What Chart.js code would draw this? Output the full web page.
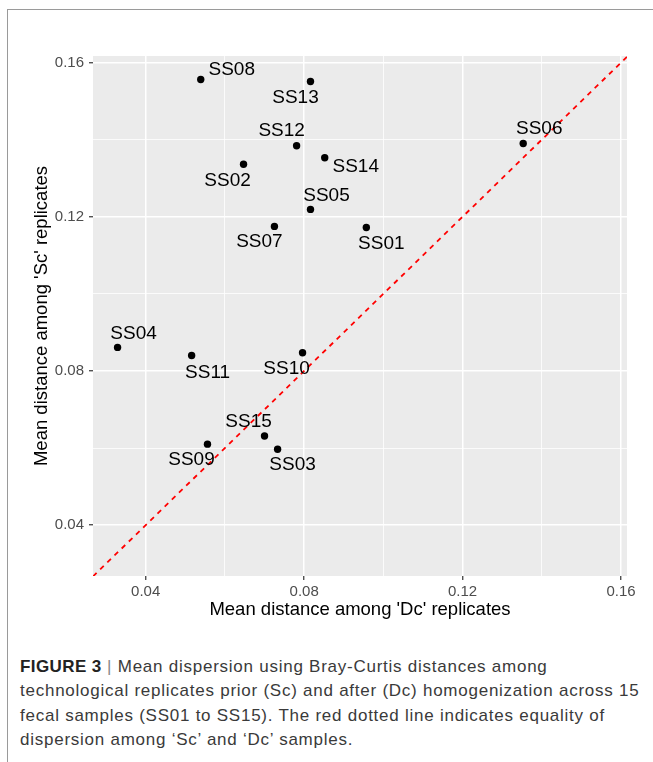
<!DOCTYPE html>
<html>
<head>
<meta charset="utf-8">
<script src="https://cdn.jsdelivr.net/npm/chart.js@4.4.1/dist/chart.umd.min.js"></script>
<style>
  body { margin: 0; background: #fff; width: 653px; height: 762px; overflow: hidden; position: relative; }
  #frame { position: absolute; left: 7px; top: 9px; width: 700px; height: 800px;
           border-left: 1px solid #9a9a9a; border-top: 1px solid #9a9a9a; }
  #wrap { position: absolute; left: 0; top: 0; width: 653px; height: 622px; }
  #caption { position: absolute; left: 20px; top: 655px; width: 630px;
             font-family: "Liberation Sans", Arial, sans-serif; font-size: 17px;
             letter-spacing: 0.75px; line-height: 24.3px; color: #3a3a3a; }
  #caption b { color: #222; letter-spacing: 0.4px; }
  #caption .bar { color: #888; }
</style>
</head>
<body>
<div id="frame"></div>
<div id="wrap"><canvas id="dispersionChart"></canvas></div>
<div id="caption"><b>FIGURE 3</b> <span class="bar">|</span> Mean dispersion using Bray-Curtis distances among technological replicates prior (Sc) and after (Dc) homogenization across 15 fecal samples (SS01 to SS15). The red dotted line indicates equality of dispersion among ‘Sc’ and ‘Dc’ samples.</div>
<script>
const samples = ['SS01', 'SS02', 'SS03', 'SS04', 'SS05', 'SS06', 'SS07', 'SS08',
                 'SS09', 'SS10', 'SS11', 'SS12', 'SS13', 'SS14', 'SS15'];
const dcDistance = [0.0957, 0.0647, 0.0733, 0.0329, 0.0816, 0.1353, 0.0725, 0.0539,
                    0.0556, 0.0796, 0.0516, 0.0781, 0.0816, 0.0852, 0.0700];
const scDistance = [0.1172, 0.1336, 0.0597, 0.0861, 0.1219, 0.1390, 0.1175, 0.1556,
                    0.0610, 0.0847, 0.0840, 0.1384, 0.1551, 0.1353, 0.0631];
const tickValues = [0.04, 0.06, 0.08, 0.10, 0.12, 0.14, 0.16];
const majorTicks = [0.04, 0.08, 0.12, 0.16];

// axis limits (ggplot panel)
const xMin = 0.0267, xMax = 0.1615;
const yMin = 0.0268, yMax = 0.1617;

// label nudges in pixels (like ggrepel placed them)
const labelNudge = [[15, 16], [-16, 16], [15, 16], [16, -14], [16, -14], [16, -15], [-15, 15],
                    [31, -10], [-16, 16], [-16, 16], [16, 17], [-15, -15], [-15, 16], [31, 9], [-16, -14]];

const isMajor = v => majorTicks.some(m => Math.abs(m - v) < 1e-6);

const panelBg = {
  id: 'panelBg',
  beforeDraw(chart) {
    const a = chart.chartArea, ctx = chart.ctx;
    ctx.save();
    ctx.fillStyle = '#EBEBEB';
    ctx.fillRect(a.left, a.top, a.right - a.left, a.bottom - a.top);
    ctx.restore();
  }
};

const pointLabels = {
  id: 'pointLabels',
  afterDatasetsDraw(chart) {
    const ctx = chart.ctx;
    const meta = chart.getDatasetMeta(1);
    ctx.save();
    ctx.font = '19px "Liberation Sans", Arial, sans-serif';
    ctx.fillStyle = '#000';
    ctx.textAlign = 'center';
    ctx.textBaseline = 'middle';
    meta.data.forEach((pt, i) => {
      ctx.fillText(samples[i], pt.x + labelNudge[i][0], pt.y + labelNudge[i][1]);
    });
    ctx.restore();
  }
};

function gridOpts() {
  return {
    color: '#FFFFFF',
    lineWidth: c => isMajor(c.tick.value) ? 1.5 : 0.8,
    tickColor: c => isMajor(c.tick.value) ? '#333333' : 'rgba(0,0,0,0)',
    tickWidth: 1.2,
    tickLength: 4,
    drawTicks: true
  };
}

const ctx = document.getElementById('dispersionChart').getContext('2d');
new Chart(ctx, {
  type: 'scatter',
  data: {
    datasets: [{
      type: 'line',
      label: 'equality',
      data: [{x: xMin, y: xMin}, {x: Math.min(xMax, yMax), y: Math.min(xMax, yMax)}],
      borderColor: '#FF0000',
      borderWidth: 1.8,
      borderDash: [5, 5],
      pointRadius: 0,
      fill: false
    }, {
      label: 'samples',
      data: samples.map((s, i) => ({x: dcDistance[i], y: scDistance[i]})),
      backgroundColor: '#000',
      borderColor: '#000',
      pointRadius: 3.7,
      pointBorderWidth: 0
    }]
  },
  options: {
    responsive: true,
    maintainAspectRatio: false,
    animation: false,
    layout: { padding: { top: 56, right: 26, left: 0, bottom: 0 } },
    plugins: {
      legend: { display: false },
      tooltip: { enabled: false }
    },
    scales: {
      x: {
        type: 'linear',
        min: xMin,
        max: xMax,
        afterBuildTicks: axis => { axis.ticks = tickValues.map(v => ({value: v})); },
        afterFit: axis => { axis.height = 46; },
        border: { display: false },
        grid: gridOpts(),
        ticks: {
          color: '#4D4D4D',
          padding: 3,
          maxRotation: 0,
          font: { family: '"Liberation Sans", Arial, sans-serif', size: 15 },
          callback: v => isMajor(v) ? v.toFixed(2) : ''
        },
        title: {
          display: true,
          text: "Mean distance among 'Dc' replicates",
          color: '#000',
          padding: { top: 0, bottom: 1 },
          font: { family: '"Liberation Sans", Arial, sans-serif', size: 18.5 }
        }
      },
      y: {
        type: 'linear',
        min: yMin,
        max: yMax,
        afterBuildTicks: axis => { axis.ticks = tickValues.map(v => ({value: v})); },
        afterFit: axis => { axis.width = 93; },
        border: { display: false },
        grid: gridOpts(),
        ticks: {
          color: '#4D4D4D',
          padding: 5,
          font: { family: '"Liberation Sans", Arial, sans-serif', size: 15 },
          callback: v => isMajor(v) ? v.toFixed(2) : ''
        },
        title: {
          display: true,
          text: "Mean distance among 'Sc' replicates",
          color: '#000',
          padding: { top: 31, bottom: 0 },
          font: { family: '"Liberation Sans", Arial, sans-serif', size: 18.5 }
        }
      }
    }
  },
  plugins: [panelBg, pointLabels]
});
</script>
</body>
</html>
